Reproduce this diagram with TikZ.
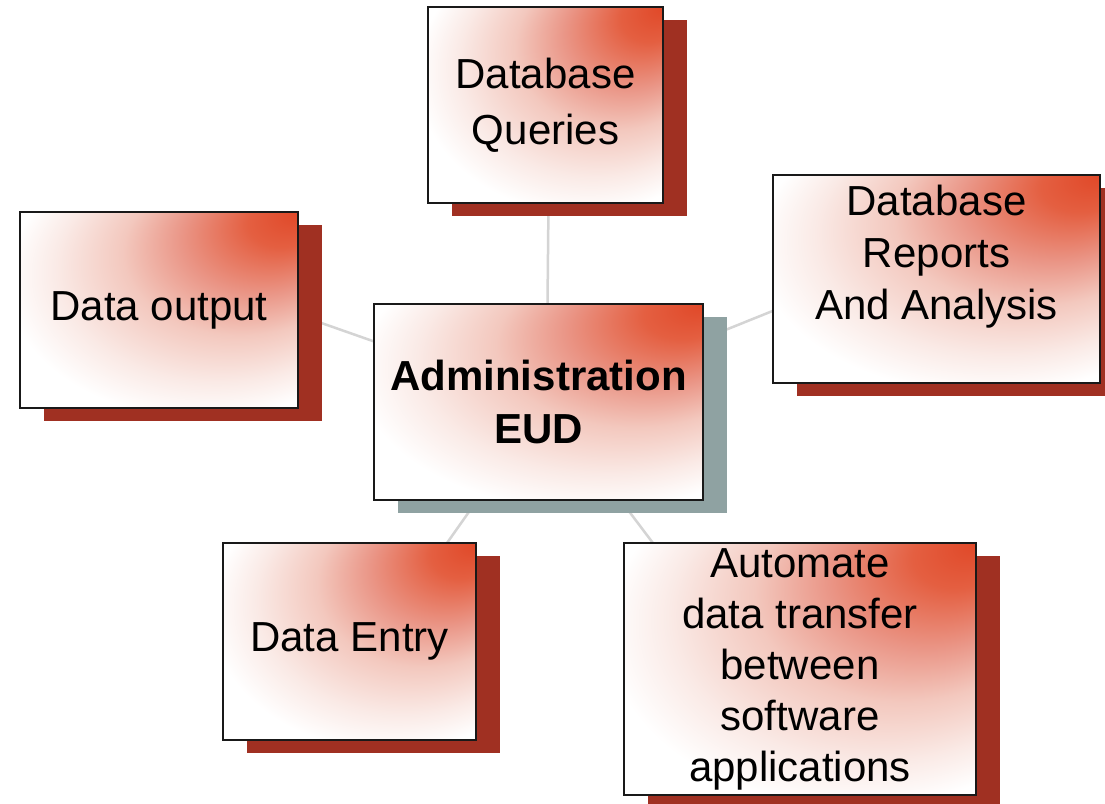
\documentclass[tikz,border=0pt]{standalone}
\usepackage{fontspec}
\setmainfont{Liberation Sans}
\usetikzlibrary{shadows,calc}
\definecolor{shred}{RGB}{160,48,34}
\definecolor{shgray}{RGB}{143,162,162}
\definecolor{connc}{RGB}{212,212,212}
\definecolor{shtop}{RGB}{224,72,40}
\definecolor{shpa}{RGB}{228,95,65}
\definecolor{shpb}{RGB}{234,150,135}
\definecolor{shpc}{RGB}{243,200,190}
\definecolor{shpd}{RGB}{250,234,230}
\pgfdeclareradialshading{boxshade}{\pgfpoint{25bp}{25bp}}{color(0bp)=(shtop); color(6bp)=(shpa); color(14bp)=(shpb); color(21bp)=(shpc); color(29bp)=(shpd); color(35bp)=(white); color(50bp)=(white)}
\pgfdeclarelayer{background}
\pgfsetlayers{background,main}
\tikzset{
  basebox/.style={draw=black!90, line width=2pt, shade, shading=boxshade,
    align=center, inner sep=0pt},
  redbox/.style={basebox, drop shadow={shadow xshift=24pt, shadow yshift=-13pt, fill=shred, opacity=1}},
  graybox/.style={basebox, drop shadow={shadow xshift=24pt, shadow yshift=-13pt, fill=shgray, opacity=1}},
  txt/.style={align=center, inner sep=0pt},
  conn/.style={draw=connc, line width=2.5pt}
}
\begin{document}
\begin{tikzpicture}[x=1pt,y=-1pt]
\path[use as bounding box] (0,0) rectangle (1105,803);

\node[redbox, minimum width=235pt, minimum height=196pt, font=\fontsize{42}{56}\selectfont]
  (dq) at (545.5,105) {Database\\Queries};
\node[redbox, minimum width=278pt, minimum height=196pt, font=\fontsize{42}{54}\selectfont]
  (do) at (159,310) {Data output};
\node[redbox, minimum width=327pt, minimum height=208pt] (dr) at (936.5,279) {};
\node[txt, font=\fontsize{42}{52}\selectfont] (drt) at ([yshift=22pt]dr.center)
  {Database\\Reports\\And Analysis};
\node[redbox, minimum width=253pt, minimum height=197pt, font=\fontsize{42}{54}\selectfont]
  (de) at (349.5,641.5) {Data Entry};
\node[redbox, minimum width=352pt, minimum height=252pt, font=\fontsize{42}{51}\selectfont]
  (au) at (800,669) {Automate\\data transfer\\between\\software\\applications};
\node[graybox, minimum width=329pt, minimum height=196pt, font=\fontsize{42}{53}\selectfont\bfseries]
  (ctr) at (538.5,402) {Administration\\EUD};

\begin{pgfonlayer}{background}
\fill[white] (0,0) rectangle (1105,803);
\coordinate (hub) at ([xshift=8pt]ctr.center);
\draw[conn] (hub) -- ([xshift=4pt]dq.center);
\draw[conn] (hub) -- ([yshift=44pt]do.center);
\draw[conn] (hub) -- ([yshift=34pt]dr.center);
\draw[conn] (hub) -- ([xshift=28pt]de.center);
\draw[conn] (hub) -- ([xshift=-52pt]au.center);
\end{pgfonlayer}
\end{tikzpicture}
\end{document}
